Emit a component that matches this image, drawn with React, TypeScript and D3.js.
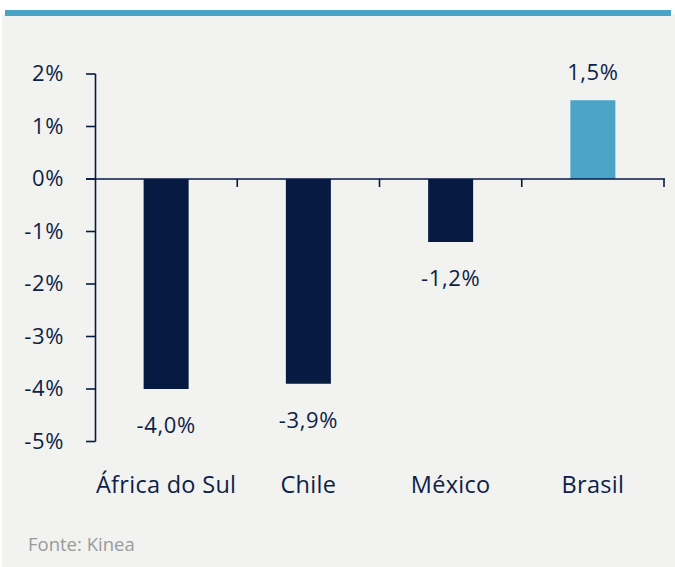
import React from "react";
import * as d3 from "d3";

const categories = ["África do Sul", "Chile", "México", "Brasil"];
const values = [-4.0, -3.9, -1.2, 1.5];
const valueLabels = ["-4,0%", "-3,9%", "-1,2%", "1,5%"];
const yTicks = [2, 1, 0, -1, -2, -3, -4, -5];
const source = "Fonte: Kinea";

const W = 675;
const H = 567;
const NAVY = "#061a42";
const BLUE = "#4ba3c8";
const TEXT = "#0e1f47";
const FONT = "'Open Sans', 'Noto Sans', sans-serif";

export default function App() {
  const x = d3.scaleBand<string>().domain(categories).range([95, 664]).paddingInner(0).paddingOuter(0);
  const y = d3.scaleLinear().domain([-5, 2]).range([441.5, 74]);
  const bw = 45;
  const y0 = y(0);

  return (
    <div style={{ position: "absolute", left: 0, top: 0 }}>
      <svg width={W} height={H} style={{ display: "block" }}>
        <rect x={0} y={0} width={W} height={H} fill="#ffffff" />
        <rect x={2} y={14} width={W - 2} height={H - 14} fill="#f2f2f0" />
        <rect x={5} y={10} width={666} height={6} fill={BLUE} />

        {/* y axis */}
        <line x1={95.5} x2={95.5} y1={y(2)} y2={y(-5)} stroke={NAVY} strokeWidth={1.6} />
        {yTicks.map((t) => (
          <g key={t}>
            <line x1={86} x2={95.5} y1={y(t)} y2={y(t)} stroke={NAVY} strokeWidth={1.6} />
            <text x={64} y={y(t)} dy="0.33em" textAnchor="end" fontFamily={FONT} fontSize={22} letterSpacing={0.6} fill={TEXT}>
              {t}%
            </text>
          </g>
        ))}

        {/* bars */}
        {categories.map((c, i) => {
          const v = values[i];
          const cx = (x(c) as number) + x.bandwidth() / 2;
          const top = Math.min(y(v), y0);
          const h = Math.abs(y(v) - y0);
          return (
            <rect key={c} x={cx - bw / 2} y={top} width={bw} height={h} fill={v >= 0 ? BLUE : NAVY} />
          );
        })}

        {/* zero line and category ticks */}
        <line x1={86} x2={665} y1={y0} y2={y0} stroke={NAVY} strokeWidth={1.6} />
        {categories.map((c) => {
          const xe = (x(c) as number) + x.bandwidth();
          return <line key={c + "t"} x1={xe} x2={xe} y1={y0} y2={y0 + 8} stroke={NAVY} strokeWidth={1.6} />;
        })}

        {/* value labels */}
        {categories.map((c, i) => {
          const v = values[i];
          const cx = (x(c) as number) + x.bandwidth() / 2;
          const ly = v >= 0 ? y(v) - 20 : y(v) + 44;
          return (
            <text key={c + "v"} x={cx} y={ly} textAnchor="middle" fontFamily={FONT} fontSize={22} letterSpacing={0.6} fill={TEXT}>
              {valueLabels[i]}
            </text>
          );
        })}

        {/* category labels */}
        {categories.map((c) => (
          <text
            key={c + "l"}
            x={(x(c) as number) + x.bandwidth() / 2}
            y={493}
            textAnchor="middle"
            fontFamily={FONT}
            fontSize={23.5}
            letterSpacing={0.3}
            fill={TEXT}
          >
            {c}
          </text>
        ))}

        <text x={28} y={551} fontFamily={FONT} fontSize={18.5} fill="#9a9a9a">
          {source}
        </text>
      </svg>
    </div>
  );
}
